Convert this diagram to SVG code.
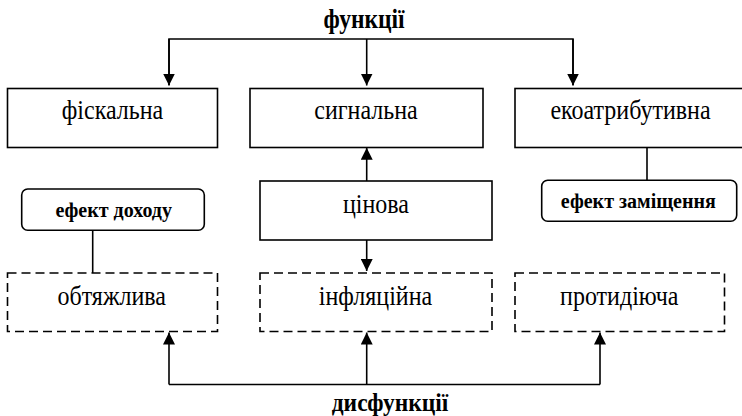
<svg xmlns="http://www.w3.org/2000/svg" width="742" height="416" viewBox="0 0 742 416">
<defs>
<style>
.box{fill:#fff;stroke:#000;stroke-width:1.6}
.dash{fill:#fff;stroke:#000;stroke-width:1.6;stroke-dasharray:9 5}
.ln{fill:none;stroke:#000;stroke-width:1.6}
text{font-family:"Liberation Serif","Times New Roman",serif;text-anchor:middle;fill:#000}
.t{font-size:24px}
.b{font-size:20px;font-weight:bold}
.h{font-size:23.5px;font-weight:bold}
</style>
<marker id="ar" viewBox="0 0 12 12" refX="12" refY="6" markerWidth="12" markerHeight="12" markerUnits="userSpaceOnUse" orient="auto">
<path d="M0,0 L12,6 L0,12 Z" fill="#000"/>
</marker>
</defs>
<g id="connectors">
<path class="ln" d="M169,85 V39 H573 V85"/>
<path class="ln" d="M169,39 V85.5" marker-end="url(#ar)"/>
<path class="ln" d="M366.7,39 V85.5" marker-end="url(#ar)"/>
<path class="ln" d="M573,39 V85.5" marker-end="url(#ar)"/>
<path class="ln" d="M366.7,181 V147.8" marker-end="url(#ar)"/>
<path class="ln" d="M366.7,240 V271" marker-end="url(#ar)"/>
<path class="ln" d="M92.7,230 V273"/>
<path class="ln" d="M647,147 V180"/>
<path class="ln" d="M169,384.5 H600"/>
<path class="ln" d="M169,384.5 V332.5" marker-end="url(#ar)"/>
<path class="ln" d="M366.7,384.5 V332.5" marker-end="url(#ar)"/>
<path class="ln" d="M600,384.5 V332.5" marker-end="url(#ar)"/>
</g>
<g id="title-functions"><text class="h" transform="translate(364,28.3) scale(1,1.18)">функції</text></g>
<g id="fiskalna"><rect class="box" x="7.5" y="88.5" width="210" height="59"/><text class="t" transform="translate(112.5,119) scale(1,1.13)">фіскальна</text></g>
<g id="syhnalna"><rect class="box" x="250" y="88.5" width="233" height="59"/><text class="t" transform="translate(366,119) scale(1,1.13)">сигнальна</text></g>
<g id="ekoatrybutyvna"><rect class="box" x="515" y="88.5" width="240" height="59"/><text class="t" transform="translate(630.5,119.3) scale(1,1.13)">екоатрибутивна</text></g>
<g id="tsinova"><rect class="box" x="260" y="181" width="232" height="59"/><text class="t" transform="translate(376,212.7) scale(1,1.13)">цінова</text></g>
<g id="efekt-dokhodu"><rect class="box" x="21.7" y="189" width="182.6" height="41.3" rx="6"/><text class="b" x="113.7" y="216.7">ефект доходу</text></g>
<g id="efekt-zamishchennia"><rect class="box" x="541.7" y="180.3" width="195" height="41" rx="6"/><text class="b" x="638.3" y="208.3">ефект заміщення</text></g>
<g id="obtiazhlyva"><rect class="dash" x="7.5" y="273" width="210" height="58.5"/><text class="t" transform="translate(111.7,304.7) scale(1,1.13)">обтяжлива</text></g>
<g id="infliatsiina"><rect class="dash" x="260" y="273" width="232" height="58.5"/><text class="t" transform="translate(375.5,304.7) scale(1,1.13)">інфляційна</text></g>
<g id="protydiiucha"><rect class="dash" x="515" y="273" width="209.5" height="58.5"/><text class="t" transform="translate(619.3,304.7) scale(1,1.13)">протидіюча</text></g>
<g id="title-dysfunctions"><text class="h" transform="translate(390,410.5) scale(1,1.1)">дисфункції</text></g>
</svg>
